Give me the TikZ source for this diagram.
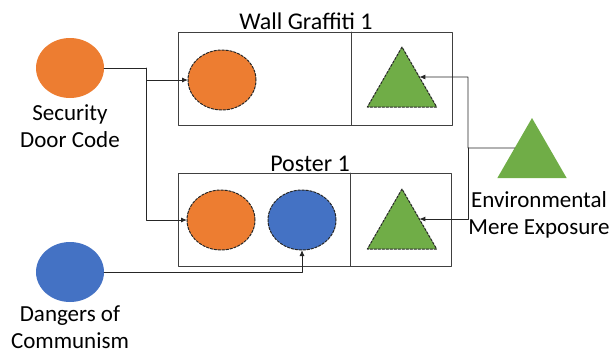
\documentclass[tikz,border=0pt]{standalone}
\usepackage{fontspec}
\setmainfont{Carlito}
\usetikzlibrary{arrows.meta,positioning,shapes.geometric}

\definecolor{cueorange}{HTML}{ED7D31}
\definecolor{cueblue}{HTML}{4472C4}
\definecolor{cuegreen}{HTML}{70AD47}

\begin{document}
\begin{tikzpicture}[x=1pt, y=-1pt, >={Latex[length=6pt,width=5pt]}, line cap=round, line join=round,
		every node/.style={font=\fontsize{23}{27}\selectfont},
		cue/.style={ellipse, minimum width=68pt, minimum height=60pt, inner sep=0pt, outer sep=0pt},
		tri/.style={regular polygon, regular polygon sides=3, minimum size=80pt, inner sep=0pt, outer sep=0pt},
		copy/.style={draw=black!85, dash pattern=on 2.5pt off 1.5pt, line width=1pt},
		panel/.style={draw=black!75, line width=1pt, minimum width=274pt, minimum height=93pt, inner sep=0pt, outer sep=0pt},
		wire/.style={draw=black!85, line width=0.9pt}]
		
		\useasboundingbox (0,0) rectangle (610,354);
		
		% the two displays, each split in two
		\node[panel] (wg) at (315,78.5) {};
		\node[panel, minimum width=273pt] (po) at (314.5,219.5) {};
		\draw[panel] (351,0 |- wg.north) -- (351,0 |- wg.south);
		\draw[panel] (350,0 |- po.north) -- (350,0 |- po.south);
		\node[anchor=base, font=\fontsize{24}{28}\selectfont] (wgtitle) at (306,29.5) {Wall Graffiti 1};
		\node[anchor=base, font=\fontsize{24}{28}\selectfont] (potitle) at (310,171) {Poster 1};
		
		% sources on the outside
		\node[cue, fill=cueorange] (sec) at (70,68) {};
		\node[below=3pt of sec, align=center] (seclabel) {Security\\Door Code};
		\node[cue, fill=cueblue] (dan) at (70,272) {};
		\node[below=3pt of dan, align=center, inner sep=1pt] (danlabel) {Dangers of\\Communism};
		\node[tri, fill=cuegreen] (envtri) at (532,158) {};
		\node[below=10pt of envtri, xshift=7pt, align=center] (envlabel) {Environmental\\Mere Exposure};
		
		% copies inside the displays
		\node[cue, copy, fill=cueorange] (wgor) at (222,80) {};
		\node[tri, copy, fill=cuegreen] (wgtri) at (402,87) {};
		\node[cue, copy, fill=cueorange] (por) at (221,220) {};
		\node[cue, copy, fill=cueblue] (pbl) at (302,220) {};
		\node[tri, copy, fill=cuegreen] (ptri) at (402,229) {};
		
		% connectors
		\coordinate (sj) at (146,68);
		\draw[wire,->] (sec.east) -- (sj) |- (wgor.west);
		\draw[wire,->] (sj) |- (por.west);
		\draw[wire,->] (dan.east) -| (pbl.south);
		\coordinate (ej) at (468,148);
		\draw[wire,->] (envtri.150) -- (ej) |- (wgtri.30);
		\draw[wire,->] (ej) |- (ptri.30);
		
	\end{tikzpicture}
\end{document}
